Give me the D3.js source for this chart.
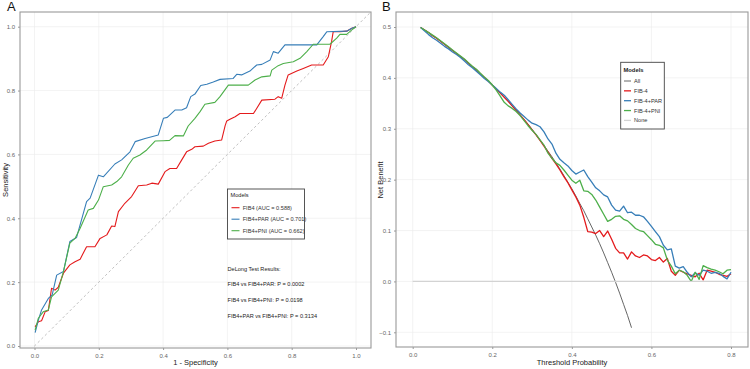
<!DOCTYPE html>
<html><head><meta charset="utf-8">
<script src="https://cdn.jsdelivr.net/npm/d3@7"></script>
<style>body{margin:0;background:#fff}svg{display:block;font-family:"Liberation Sans",Arial,sans-serif}</style>
</head><body><svg id="c" width="750" height="369"></svg>
<script>
// ---------- Panel A: ROC data ----------
const rocFIB4_fpr = [0.002,0.012,0.022,0.033,0.043,0.053,0.064,0.074,0.090,0.110,0.126,0.142,0.162,0.188,0.204,0.225,0.240,0.250,0.261,0.281,0.302,0.323,0.349,0.365,0.385,0.406,0.421,0.442,0.458,0.473,0.489,0.499,0.525,0.541,0.561,0.582,0.593,0.598,0.608,0.624,0.639,0.681,0.691,0.707,0.748,0.758,0.769,0.779,0.789,0.816,0.836,0.862,0.898,0.914,0.924,0.929,0.950,0.971,0.987,1.0];
const rocFIB4_tpr = [0.060,0.076,0.079,0.107,0.111,0.181,0.175,0.184,0.228,0.254,0.264,0.272,0.311,0.311,0.337,0.348,0.376,0.374,0.421,0.447,0.468,0.502,0.504,0.510,0.507,0.546,0.556,0.556,0.583,0.608,0.616,0.624,0.626,0.635,0.642,0.645,0.690,0.705,0.710,0.718,0.728,0.728,0.744,0.770,0.773,0.781,0.776,0.817,0.849,0.861,0.869,0.880,0.880,0.906,0.953,0.984,0.984,0.986,0.995,1.0];
const rocPAR_fpr = [0.002,0.012,0.022,0.043,0.055,0.069,0.090,0.110,0.131,0.162,0.173,0.199,0.214,0.250,0.271,0.297,0.313,0.344,0.385,0.401,0.413,0.437,0.458,0.473,0.486,0.499,0.517,0.536,0.556,0.577,0.618,0.629,0.644,0.670,0.691,0.707,0.733,0.743,0.758,0.779,0.878,0.898,0.909,0.971,0.987,1.0];
const rocPAR_tpr = [0.042,0.081,0.113,0.149,0.160,0.222,0.233,0.327,0.340,0.452,0.463,0.535,0.530,0.570,0.583,0.608,0.640,0.650,0.661,0.713,0.716,0.739,0.739,0.746,0.781,0.789,0.816,0.820,0.827,0.835,0.838,0.851,0.849,0.861,0.880,0.882,0.896,0.922,0.917,0.943,0.943,0.969,0.984,0.986,0.995,1.0];
const rocPNI_fpr = [0.002,0.012,0.027,0.043,0.053,0.074,0.090,0.110,0.126,0.142,0.167,0.183,0.199,0.214,0.240,0.256,0.271,0.292,0.307,0.328,0.349,0.375,0.401,0.420,0.437,0.463,0.478,0.499,0.515,0.530,0.561,0.577,0.603,0.665,0.686,0.707,0.733,0.738,0.758,0.774,0.805,0.826,0.847,0.867,0.919,0.940,0.950,0.971,0.987,1.0];
const rocPNI_tpr = [0.050,0.087,0.107,0.113,0.154,0.175,0.233,0.322,0.337,0.369,0.426,0.431,0.457,0.499,0.504,0.515,0.530,0.567,0.588,0.598,0.614,0.642,0.643,0.644,0.659,0.658,0.689,0.713,0.734,0.757,0.763,0.781,0.817,0.817,0.833,0.843,0.846,0.864,0.878,0.885,0.890,0.901,0.922,0.945,0.945,0.964,0.976,0.976,0.990,1.0];
const rocLabels = ["FIB4 (AUC = 0.588)","FIB4+PAR (AUC = 0.701)","FIB4+PNI (AUC = 0.662)"];
const delongLines = ["DeLong Test Results:","FIB4 vs FIB4+PAR: P = 0.0002","FIB4 vs FIB4+PNI: P = 0.0198","FIB4+PAR vs FIB4+PNI: P = 0.3134"];
const ticksA = [0,0.2,0.4,0.6,0.8,1.0];

// ---------- Panel B: DCA data ----------
const dcaThreshold = [0.02,0.03,0.04,0.05,0.06,0.07,0.08,0.09,0.10,0.11,0.12,0.13,0.14,0.15,0.16,0.17,0.18,0.19,0.20,0.21,0.22,0.23,0.24,0.25,0.26,0.27,0.28,0.29,0.30,0.31,0.32,0.33,0.34,0.35,0.36,0.37,0.38,0.39,0.40,0.41,0.42,0.43,0.44,0.45,0.46,0.47,0.48,0.49,0.50,0.51,0.52,0.53,0.54,0.55,0.56,0.57,0.58,0.59,0.60,0.61,0.62,0.63,0.64,0.65,0.66,0.67,0.68,0.69,0.70,0.71,0.72,0.73,0.74,0.75,0.76,0.77,0.78,0.79,0.80];
const dcaAll = [0.499,0.494,0.489,0.483,0.478,0.472,0.466,0.460,0.454,0.448,0.442,0.436,0.429,0.422,0.416,0.408,0.401,0.394,0.386,0.379,0.371,0.362,0.354,0.345,0.337,0.327,0.318,0.309,0.299,0.288,0.278,0.267,0.256,0.245,0.233,0.221,0.208,0.195,0.182,0.168,0.153,0.139,0.123,0.107,0.091,0.074,0.056,0.037,0.018,-0.002,-0.023,-0.045,-0.067,-0.091];
const dcaFIB4 = [0.499,0.494,0.489,0.483,0.478,0.472,0.466,0.460,0.454,0.448,0.442,0.436,0.429,0.422,0.416,0.408,0.401,0.394,0.386,0.378,0.370,0.362,0.354,0.345,0.336,0.327,0.318,0.308,0.298,0.288,0.277,0.266,0.254,0.242,0.231,0.219,0.206,0.194,0.180,0.166,0.150,0.126,0.098,0.097,0.094,0.100,0.088,0.099,0.083,0.065,0.056,0.056,0.044,0.058,0.050,0.047,0.052,0.050,0.043,0.041,0.047,0.038,0.045,0.020,0.012,0.022,0.018,0.015,0.012,0.009,0.016,0.003,0.022,0.020,0.018,0.014,0.012,0.010,0.015];
const dcaPAR = [0.499,0.492,0.485,0.479,0.474,0.468,0.462,0.457,0.451,0.446,0.440,0.433,0.426,0.420,0.413,0.406,0.399,0.393,0.386,0.379,0.372,0.366,0.357,0.348,0.339,0.331,0.324,0.317,0.311,0.308,0.304,0.294,0.280,0.270,0.252,0.240,0.233,0.227,0.218,0.211,0.215,0.219,0.206,0.195,0.184,0.178,0.170,0.166,0.150,0.140,0.138,0.148,0.135,0.136,0.130,0.130,0.127,0.118,0.108,0.098,0.088,0.071,0.062,0.064,0.030,0.026,0.029,0.018,0.009,0.017,0.012,0.022,0.020,0.016,0.018,0.016,0.010,0.005,0.018];
const dcaPNI = [0.499,0.494,0.489,0.484,0.479,0.473,0.467,0.461,0.455,0.449,0.443,0.437,0.430,0.423,0.417,0.409,0.402,0.395,0.386,0.376,0.364,0.352,0.345,0.340,0.334,0.326,0.316,0.306,0.297,0.289,0.278,0.268,0.252,0.242,0.233,0.228,0.219,0.209,0.199,0.193,0.199,0.178,0.177,0.171,0.160,0.146,0.132,0.118,0.122,0.128,0.129,0.122,0.119,0.112,0.104,0.100,0.098,0.090,0.082,0.073,0.071,0.066,0.042,0.030,0.015,0.022,0.019,0.012,0.000,0.018,0.004,0.031,0.027,0.024,0.022,0.019,0.015,0.022,0.023];
const dcaNoneT = [0.0,0.8];
const dcaNone = [0,0];
const dcaLegend = ["All","FIB-4","FIB-4+PAR","FIB-4+PNI","None"];
const ticksBx = [0,0.2,0.4,0.6,0.8];
const ticksBy = [-0.1,0,0.1,0.2,0.3,0.4,0.5];

const cRed="#e41a1c", cBlue="#377eb8", cGreen="#4daf4a", cAll="#555555", cNone="#d3d3d3";
const svg = d3.select("#c");
const fmt1 = d3.format(".1f");

function panel(px0,px1,py0,py1,x,y,xt,yt){
  const g = svg.append("g");
  // grid
  g.selectAll(".gx").data(xt).join("line").attr("x1",d=>x(d)).attr("x2",d=>x(d)).attr("y1",py0).attr("y2",py1).attr("stroke","#ebebeb").attr("stroke-width",0.6);
  g.selectAll(".gy").data(yt).join("line").attr("y1",d=>y(d)).attr("y2",d=>y(d)).attr("x1",px0).attr("x2",px1).attr("stroke","#ebebeb").attr("stroke-width",0.6);
  return g;
}
function axes(px0,px1,py0,py1,x,y,xt,yt){
  const ax = svg.append("g").attr("transform",`translate(0,${py1})`).call(d3.axisBottom(x).tickValues(xt).tickFormat(fmt1).tickSize(2).tickPadding(4));
  const ay = svg.append("g").attr("transform",`translate(${px0},0)`).call(d3.axisLeft(y).tickValues(yt).tickFormat(fmt1).tickSize(2).tickPadding(3));
  [ax,ay].forEach(a=>{a.select(".domain").remove();a.selectAll("line").attr("stroke","#999");a.selectAll("text").attr("fill","#666").attr("font-size",6).attr("font-family","'Liberation Sans',Arial,sans-serif");});
  svg.append("rect").attr("x",px0).attr("y",py0).attr("width",px1-px0).attr("height",py1-py0).attr("fill","none").attr("stroke","#9a9a9a").attr("stroke-width",1.1);
}

// ===== Panel A =====
const Ax0=20,Ax1=371,Ay0=12,Ay1=348;
const xA = d3.scaleLinear().domain([0,1]).range([34.5,356]);
const yA = d3.scaleLinear().domain([0,1]).range([346,26.7]);
const gA = panel(Ax0,Ax1,Ay0,Ay1,xA,yA,ticksA,ticksA);
svg.append("clipPath").attr("id","clipA").append("rect").attr("x",Ax0).attr("y",Ay0).attr("width",Ax1-Ax0).attr("height",Ay1-Ay0);
gA.append("line").attr("clip-path","url(#clipA)").attr("x1",xA(-0.1)).attr("y1",yA(-0.1)).attr("x2",xA(1.1)).attr("y2",yA(1.1)).attr("stroke","#b0b0b0").attr("stroke-width",0.8).attr("stroke-dasharray","2.5,2.5");
const lineA = d3.line().x(d=>xA(d[0])).y(d=>yA(d[1]));
[[rocFIB4_fpr,rocFIB4_tpr,cRed],[rocPAR_fpr,rocPAR_tpr,cBlue],[rocPNI_fpr,rocPNI_tpr,cGreen]].forEach(([f,t,c])=>{
  gA.append("path").datum(d3.zip(f,t)).attr("d",lineA).attr("fill","none").attr("stroke",c).attr("stroke-width",1.1).attr("stroke-linejoin","round");
});
axes(Ax0,Ax1,Ay0,Ay1,xA,yA,ticksA,ticksA);
svg.append("text").attr("x",195.5).attr("y",365).attr("text-anchor","middle").attr("font-size",7.5).attr("fill","#222").text("1 - Specificity");
svg.append("text").attr("transform","translate(7.5,180) rotate(-90)").attr("text-anchor","middle").attr("font-size",7.5).attr("fill","#222").text("Sensitivity");
svg.append("text").attr("x",7).attr("y",11).attr("font-size",13).attr("fill","#111").text("A");
// legend A
const lgA = svg.append("g");
lgA.append("rect").attr("x",227.5).attr("y",189).attr("width",77).attr("height",50).attr("fill","#fff").attr("stroke","#444").attr("stroke-width",0.9);
lgA.append("text").attr("x",230.5).attr("y",197).attr("font-size",5.6).attr("fill","#222").text("Models");
[cRed,cBlue,cGreen].forEach((c,i)=>{
  const yy = 207.7 + i*11.5;
  lgA.append("line").attr("x1",231.5).attr("x2",239.5).attr("y1",yy).attr("y2",yy).attr("stroke",c).attr("stroke-width",1.1);
  lgA.append("text").attr("x",242.7).attr("y",yy+2).attr("font-size",5.6).attr("fill","#333").text(rocLabels[i]);
});
delongLines.forEach((s,i)=>{
  svg.append("text").attr("x",227.5).attr("y",[271,286.3,302.3,318][i]).attr("font-size",5.6).attr("fill","#222").text(s);
});

// ===== Panel B =====
const Bx0=396,Bx1=748,By0=12,By1=347;
const xB = d3.scaleLinear().domain([0,0.8]).range([412.7,731]);
const yB = d3.scaleLinear().domain([-0.1,0.5]).range([332.3,27]);
const gB = panel(Bx0,Bx1,By0,By1,xB,yB,ticksBx,ticksBy);
const lineB = d3.line().x(d=>xB(d[0])).y(d=>yB(d[1]));
gB.append("path").datum(d3.zip(dcaThreshold.slice(0,dcaAll.length),dcaAll)).attr("d",lineB).attr("fill","none").attr("stroke",cAll).attr("stroke-width",0.9);
[[dcaFIB4,cRed],[dcaPAR,cBlue],[dcaPNI,cGreen]].forEach(([v,c])=>{
  gB.append("path").datum(d3.zip(dcaThreshold,v)).attr("d",lineB).attr("fill","none").attr("stroke",c).attr("stroke-width",1.3).attr("stroke-linejoin","round");
});
gB.append("path").datum(d3.zip(dcaNoneT,dcaNone)).attr("d",lineB).attr("fill","none").attr("stroke",cNone).attr("stroke-width",1.2);
axes(Bx0,Bx1,By0,By1,xB,yB,ticksBx,ticksBy);
svg.append("text").attr("x",572).attr("y",365).attr("text-anchor","middle").attr("font-size",7.5).attr("fill","#222").text("Threshold Probability");
svg.append("text").attr("transform","translate(382.5,180) rotate(-90)").attr("text-anchor","middle").attr("font-size",7.5).attr("fill","#222").text("Net Benefit");
svg.append("text").attr("x",382).attr("y",11).attr("font-size",13).attr("fill","#111").text("B");
// legend B
const lgB = svg.append("g");
lgB.append("rect").attr("x",620.7).attr("y",62.3).attr("width",43.6).attr("height",66.7).attr("fill","#fff").attr("stroke","#444").attr("stroke-width",0.9);
lgB.append("text").attr("x",623.5).attr("y",72).attr("font-size",5.8).attr("font-weight","bold").attr("fill","#222").text("Models");
[cAll,cRed,cBlue,cGreen,cNone].forEach((c,i)=>{
  const yy = 81 + i*9.85;
  lgB.append("line").attr("x1",624).attr("x2",631).attr("y1",yy).attr("y2",yy).attr("stroke",c).attr("stroke-width",i===0?0.9:1.3);
  lgB.append("text").attr("x",634).attr("y",yy+2).attr("font-size",5.6).attr("fill","#333").text(dcaLegend[i]);
});
</script></body></html>
